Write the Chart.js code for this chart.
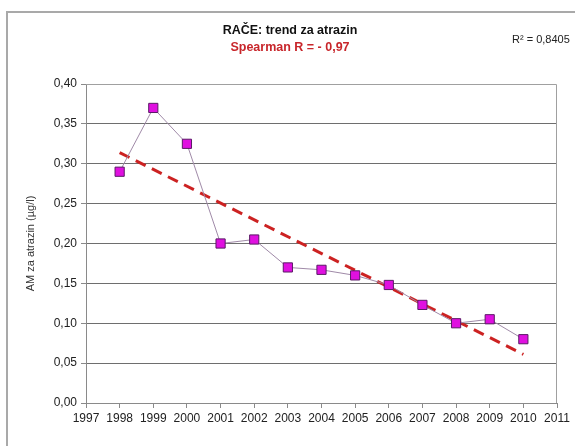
<!DOCTYPE html>
<html>
<head>
<meta charset="utf-8">
<script src="https://cdn.jsdelivr.net/npm/chart.js@4.4.1/dist/chart.umd.min.js"></script>
<style>
  html, body { margin: 0; padding: 0; background: #ffffff; }
  #wrap { width: 575px; height: 446px; position: relative; }
</style>
</head>
<body>
<div id="wrap"><canvas id="c" width="575" height="446"></canvas></div>
<script>
// Annual mean atrazine concentration at Rače (µg/l)
const years = [1998, 1999, 2000, 2001, 2002, 2003, 2004, 2005, 2006, 2007, 2008, 2009, 2010];
const atrazine = [0.29, 0.37, 0.325, 0.20, 0.205, 0.17, 0.167, 0.16, 0.148, 0.123, 0.10, 0.105, 0.08];

// Linear trend line end points (first and last year)
const trendYears = [1998, 2010];
const trendValues = [0.314, 0.061];

// Axis ranges
const xRange = [1997, 2011];
const yRange = [0, 0.40];
const yStep = 0.05;

// Text
const titleText = 'RAČE: trend za atrazin';
const subtitleText = 'Spearman R = - 0,97';
const r2Text = 'R² = 0,8405';
const yAxisTitle = 'AM za atrazin (µg/l)';

const FONT = '"Liberation Sans", Arial, sans-serif';

const decorations = {
  id: 'decorations',
  beforeDraw(chart) {
    const ctx = chart.ctx;
    ctx.save();
    ctx.fillStyle = '#ffffff';
    ctx.fillRect(0, 0, chart.width, chart.height);
    // outer chart frame
    ctx.strokeStyle = '#a9a9a9';
    ctx.lineWidth = 2;
    ctx.beginPath();
    ctx.moveTo(7, chart.height + 2);
    ctx.lineTo(7, 12);
    ctx.lineTo(chart.width + 2, 12);
    ctx.stroke();
    ctx.restore();
  },
  afterDatasetsDraw(chart) {
    const ctx = chart.ctx;
    const a = chart.chartArea;
    ctx.save();
    ctx.strokeStyle = '#a0a0a0';
    ctx.lineWidth = 1;
    ctx.beginPath();
    ctx.moveTo(a.left, a.top + 0.5);
    ctx.lineTo(a.right - 0.5, a.top + 0.5);
    ctx.lineTo(a.right - 0.5, a.bottom);
    ctx.stroke();
    ctx.restore();
  },
  afterDraw(chart) {
    const ctx = chart.ctx;
    ctx.save();
    ctx.textAlign = 'center';
    ctx.textBaseline = 'middle';
    ctx.fillStyle = '#111111';
    ctx.font = 'bold 12.5px ' + FONT;
    ctx.fillText(titleText, 290, 31);
    ctx.fillStyle = '#c8262b';
    ctx.font = 'bold 12.5px ' + FONT;
    ctx.fillText(subtitleText, 290, 48);
    ctx.fillStyle = '#222222';
    ctx.font = '11px ' + FONT;
    ctx.textAlign = 'left';
    ctx.fillText(r2Text, 512, 40);
    ctx.restore();
  }
};

new Chart(document.getElementById('c'), {
  type: 'scatter',
  data: {
    datasets: [
      {
        label: 'AM',
        data: years.map((y, i) => ({ x: y, y: atrazine[i] })),
        showLine: true,
        borderColor: '#a08aa8',
        borderWidth: 1,
        pointStyle: 'rect',
        pointRadius: 6.5,
        pointHoverRadius: 6.5,
        pointBackgroundColor: '#e010e0',
        pointBorderColor: '#5a1a66',
        pointBorderWidth: 1,
        order: 1
      },
      {
        label: 'trend',
        data: trendYears.map((y, i) => ({ x: y, y: trendValues[i] })),
        showLine: true,
        borderColor: '#cc2222',
        borderWidth: 3,
        borderDash: [11, 7],
        pointRadius: 0,
        order: 2
      }
    ]
  },
  options: {
    responsive: false,
    animation: false,
    events: [],
    layout: { padding: { left: 20, top: 84, right: 18, bottom: 0 } },
    plugins: {
      legend: { display: false },
      tooltip: { enabled: false },
      title: { display: false }
    },
    scales: {
      x: {
        type: 'linear',
        min: xRange[0],
        max: xRange[1],
        afterFit(scale) { scale.height = 43; },
        ticks: {
          stepSize: 1,
          autoSkip: false,
          maxRotation: 0,
          padding: 3,
          color: '#222222',
          font: { family: FONT, size: 12 },
          callback: v => String(v)
        },
        grid: {
          drawOnChartArea: false,
          drawTicks: true,
          tickLength: 5,
          tickColor: '#8a8a8a'
        },
        border: { color: '#8a8a8a', width: 1 }
      },
      y: {
        min: yRange[0],
        max: yRange[1],
        afterFit(scale) { scale.width = 66; },
        ticks: {
          stepSize: yStep,
          padding: 4,
          color: '#222222',
          font: { family: FONT, size: 12 },
          callback: v => v.toFixed(2).replace('.', ',')
        },
        grid: {
          color: ctx => (ctx.tick && (ctx.tick.value <= 0.0001 || ctx.tick.value >= 0.3999)) ? 'rgba(0,0,0,0)' : '#6e6e6e',
          borderDash: [1, 1],
          tickBorderDash: [],
          tickColor: '#8a8a8a',
          tickLength: 5,
          drawTicks: true
        },
        border: { color: '#8a8a8a', width: 1 },
        title: {
          display: true,
          text: yAxisTitle,
          color: '#333333',
          font: { family: FONT, size: 11 },
          padding: { top: 4, bottom: 0 }
        }
      }
    }
  },
  plugins: [decorations]
});
</script>
</body>
</html>
